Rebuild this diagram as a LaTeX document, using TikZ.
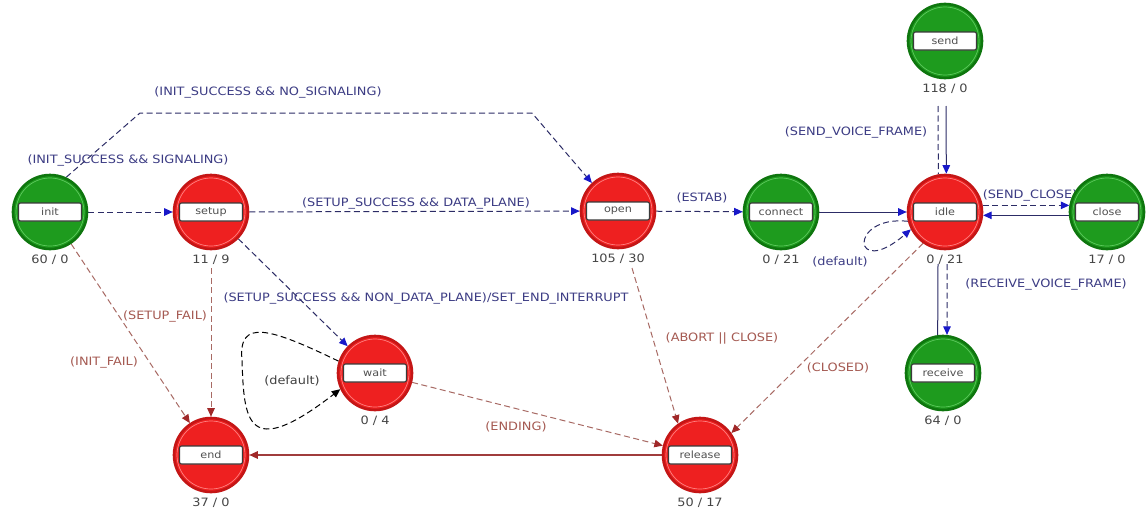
\documentclass[tikz,border=0pt]{standalone}
\usepackage{fontspec}
\setmainfont{DejaVu Sans}[FakeStretch=1.12]
\usetikzlibrary{arrows.meta}
\pgfdeclarelayer{background}
\pgfsetlayers{background,main}

\definecolor{stgreen}{HTML}{1E9B1E}
\definecolor{stgreenedge}{HTML}{0E760E}
\definecolor{stgreenring}{HTML}{5CC85C}
\definecolor{stred}{HTML}{EE2020}
\definecolor{strededge}{HTML}{C41616}
\definecolor{stredring}{HTML}{FF8080}
\definecolor{boxedge}{HTML}{3A3A3A}
\definecolor{boxtext}{HTML}{505050}
\definecolor{counttext}{HTML}{454545}
\definecolor{navyline}{HTML}{2C2C66}
\definecolor{tipblue}{HTML}{1818C8}
\definecolor{brownline}{HTML}{A86A64}
\definecolor{browntip}{HTML}{A02828}
\definecolor{brownsolid}{HTML}{A03C3C}
\definecolor{textblue}{HTML}{3C3C84}
\definecolor{textbrown}{HTML}{A55A52}
\definecolor{textgray}{HTML}{404040}

\newcommand\mkstate[5]{%
  \node[#2] (#1) at (#3) {};
  \node[namebox] (#1-box) at (#1) {#4};
  \node[count, yshift=-48pt] (#1-cnt) at (#1) {#5};
}

\tikzset{
  state/.style={circle, minimum size=74pt, inner sep=0pt, line width=2.6pt},
  gstate/.style={state, fill=stgreen, draw=stgreenedge,
    path picture={\draw[stgreenring, line width=0.7pt] (path picture bounding box.center) circle (34pt);}},
  rstate/.style={state, fill=stred, draw=strededge,
    path picture={\draw[stredring, line width=0.7pt] (path picture bounding box.center) circle (34pt);}},
  namebox/.style={draw=boxedge, line width=1.1pt, fill=white, rounded corners=2pt,
    minimum width=63pt, minimum height=18pt, inner sep=0pt,
    font=\fontsize{10}{11}\selectfont, text=boxtext},
  count/.style={font=\fontsize{11.5}{12}\selectfont, text=counttext},
  dashpat/.style={dash pattern=on 6pt off 3.5pt},
  bluetip/.style={-{Triangle[length=8.5pt,width=7.5pt,color=tipblue]}},
  browntipst/.style={-{Triangle[length=8.5pt,width=7.5pt,color=browntip]}},
  bluedash/.style={draw=navyline, line width=1pt, dashpat, bluetip},
  bluesolid/.style={draw=navyline, line width=1pt, bluetip},
  navyplain/.style={draw=navyline, line width=1pt},
  browndash/.style={draw=brownline, line width=1pt, dashpat, browntipst},
  brownline/.style={draw=brownsolid, line width=1.2pt, browntipst},
  loopdash/.style={draw=black, line width=1pt, dashpat, -{Triangle[length=8.5pt,width=7.5pt,color=black]}},
  lbl/.style={font=\fontsize{11.5}{12}\selectfont, inner sep=1pt},
  blbl/.style={lbl, text=textblue},
  rlbl/.style={lbl, text=textbrown},
  klbl/.style={lbl, text=textgray},
}

\begin{document}
\begin{tikzpicture}[x=1pt, y=-1pt]
\useasboundingbox (0,0) rectangle (1146,514);

% states
\mkstate{init}{gstate}{50,212}{init}{60 / 0}
\mkstate{setup}{rstate}{211,212}{setup}{11 / 9}
\mkstate{open}{rstate}{618,211}{open}{105 / 30}
\mkstate{connect}{gstate}{781,212}{connect}{0 / 21}
\mkstate{idle}{rstate}{945,212}{idle}{0 / 21}
\mkstate{close}{gstate}{1107,212}{close}{17 / 0}
\mkstate{send}{gstate}{945,41}{send}{118 / 0}
\mkstate{receive}{gstate}{943,373}{receive}{64 / 0}
\mkstate{wait}{rstate}{375,373}{wait}{0 / 4}
\mkstate{end}{rstate}{211,455}{end}{37 / 0}
\mkstate{release}{rstate}{700,455}{release}{50 / 17}

% bend points and free ends of connectors
\coordinate (nsA) at (140,113);
\coordinate (nsB) at (532,113);
\coordinate (wlA) at (242,360);
\coordinate (abA) at (632,268);
\coordinate (sndA) at (938,106);
\coordinate (sndB) at (946,106);
\coordinate (rcvA) at (938,264);
\coordinate (rcvB) at (947,264);

\begin{pgfonlayer}{background}
\fill[white] (0,0) rectangle (1146,514);

% transitions
\draw[bluedash] (init) -- (setup);
\draw[bluedash] (init.65) -- (nsA) -- (nsB) -- (open.133);
\draw[bluedash] (setup) -- (open);
\draw[bluedash] (setup) -- (wait);
\draw[browndash] (setup-cnt.south) -- (end.north);
\draw[browndash] (init) -- (end);
\draw[loopdash] (wait.162) .. controls (270,328) and (238,318) .. (wlA)
  .. controls (244,420) and (246,462) .. (wait.205);
\draw[browndash] (wait) -- (release);
\draw[browndash] (abA) -- (release.125);
\draw[browndash] (idle.235) -- (release.35);
\draw[brownline] (release) -- (end);
\draw[bluedash] (open) -- (connect);
\draw[bluesolid] (connect) -- (idle);
\draw[bluedash] (idle.194) .. controls (848,215) and (852,280) .. (idle.207);
\draw[navyplain, dashpat] (sndA) -- (idle.100);
\draw[bluesolid] (sndB) -- (idle.88);
\draw[bluedash] (idle.10) -- (close.170);
\draw[bluesolid] (close.185) -- (idle.-5);
\draw[navyplain] (rcvA) -- (receive.98);
\draw[bluedash] (rcvB) -- (receive.84);

% transition conditions
\node[blbl] (t-nosig) at (268,92) {(INIT\_SUCCESS \&\& NO\_SIGNALING)};
\node[blbl] (t-sig) at (128,160) {(INIT\_SUCCESS \&\& SIGNALING)};
\node[blbl] (t-data) at (416,203) {(SETUP\_SUCCESS \&\& DATA\_PLANE)};
\node[blbl] (t-nodata) at (426,298) {(SETUP\_SUCCESS \&\& NON\_DATA\_PLANE)/SET\_END\_INTERRUPT};
\node[rlbl] (t-sfail) at (165,316) {(SETUP\_FAIL)};
\node[rlbl] (t-ifail) at (104,362) {(INIT\_FAIL)};
\node[klbl] (t-wdef) at (292,381) {(default)};
\node[rlbl] (t-ending) at (516,427) {(ENDING)};
\node[rlbl] (t-abort) at (722,338) {(ABORT || CLOSE)};
\node[rlbl] (t-closed) at (838,368) {(CLOSED)};
\node[blbl] (t-estab) at (702,198) {(ESTAB)};
\node[blbl] (t-idef) at (840,262) {(default)};
\node[blbl] (t-svf) at (856,132) {(SEND\_VOICE\_FRAME)};
\node[blbl] (t-sclose) at (1030,195) {(SEND\_CLOSE)};
\node[blbl] (t-rvf) at (1046,284) {(RECEIVE\_VOICE\_FRAME)};
\end{pgfonlayer}
\end{tikzpicture}
\end{document}
